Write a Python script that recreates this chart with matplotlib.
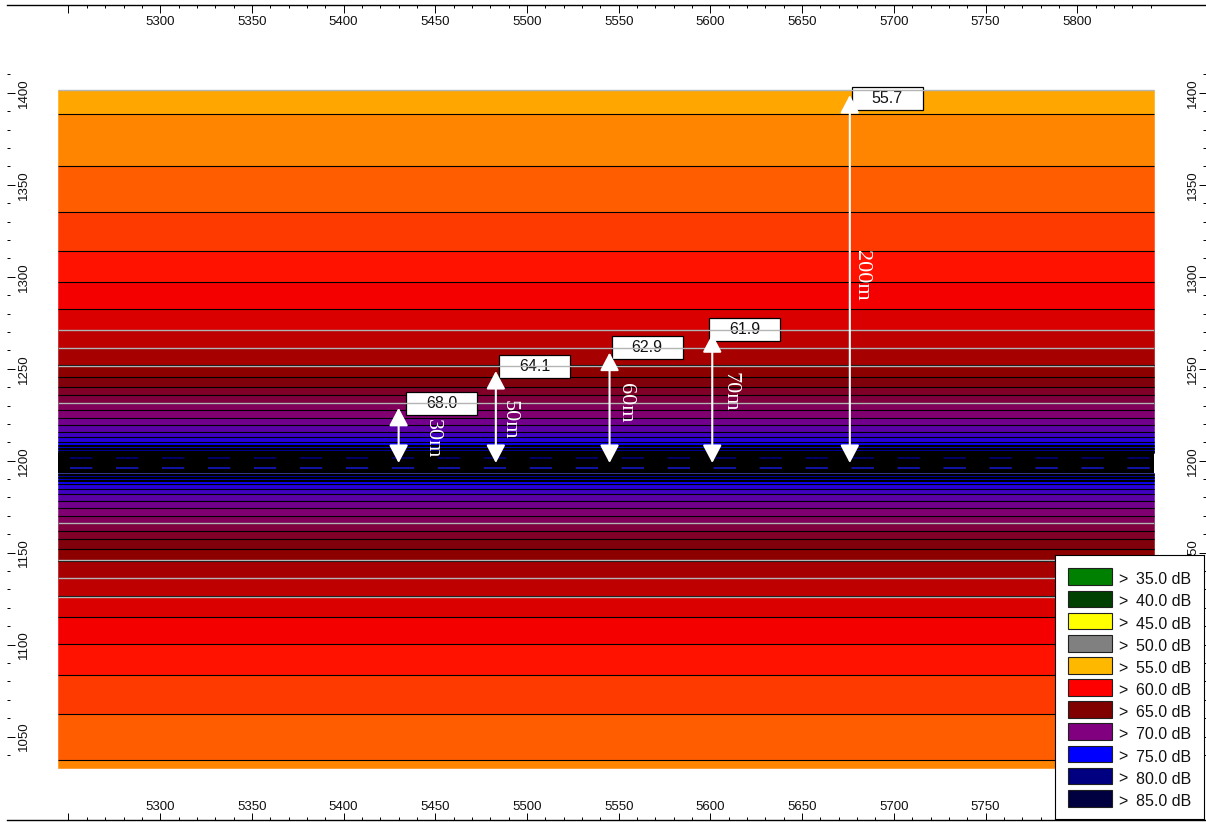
import numpy as np
import matplotlib
matplotlib.use("Agg")
import matplotlib.pyplot as plt
from matplotlib.colors import LinearSegmentedColormap, Normalize
from matplotlib.patches import Rectangle

plt.rcParams['font.family'] = ['Liberation Sans', 'DejaVu Sans']
plt.rcParams['lines.scale_dashes'] = False

# Noise classes shown in the legend (lower bound in dB) and their fills
legend_levels = [35, 40, 45, 50, 55, 60, 65, 70, 75, 80, 85]
legend_colors = ['#008000', '#004000', '#FFFF00', '#808080', '#FFB800', '#FF0000',
                 '#800000', '#800080', '#0000FF', '#000080', '#000040']

# Iso-dB lines: level (dB) and distance (m) from the road axis
contour_db = [56, 57, 58, 59, 60, 61, 62, 63, 64, 65, 66, 67, 68,
              69, 70, 71, 72, 73, 74, 75, 76, 77, 78, 79, 80]
contour_dist = [189.5, 161.5, 136.5, 115.4, 98.2, 83.9, 72.1, 62.3, 53.3, 46.9,
                41.5, 37.0, 32.4, 28.8, 24.3, 20.7, 17.0, 14.0, 11.6, 9.8,
                9.0, 8.2, 7.4, 6.6, 5.9]

# Receivers: chainage, distance from the near lane (m), computed level (dB)
receiver_x = [5430, 5483, 5545, 5601, 5676]
receiver_dist = [30, 50, 60, 70, 200]
receiver_db = [68.0, 64.1, 62.9, 61.9, 55.7]

# Road and calculation grid geometry
road_axis_y = 1198.75
lane_north_y = 1201.3
lane_south_y = 1196.0
road_half_width = 5.3
grid_x = (5244.5, 5842.0)
grid_y = (1032.8, 1401.3)

x_major = list(range(5250, 5801, 50))
x_minor = list(range(5250, 5841, 10))
y_major = list(range(1050, 1401, 50))
y_minor = list(range(1040, 1411, 10))

# colour ramp built on the legend classes from 55 dB upwards
ramp_levels = legend_levels[4:]
ramp_colors = legend_colors[4:]
norm = Normalize(vmin=ramp_levels[0], vmax=ramp_levels[-1])
cmap = LinearSegmentedColormap.from_list(
    'noise', [(norm(v), c) for v, c in zip(ramp_levels, ramp_colors)])

W, H = 1206, 822
fig = plt.figure(figsize=(W / 100, H / 100), dpi=100)
ax = fig.add_axes([6.5 / W, 2 / H, (W - 6.5) / W, 815 / H])
ax.set_xlim(5216.2, 5870.2)
ax.set_ylim(1004.7, 1447.7)

# ---- coloured bands on both sides of the road
order = np.argsort(contour_dist)
d_sorted = np.array(contour_dist)[order]
l_sorted = np.array(contour_db)[order]


def draw_side(sign, outer):
    keep = d_sorted < outer
    d_in = d_sorted[keep]
    l_in = l_sorted[keep]
    inner_edges = np.concatenate([[road_half_width], d_in])
    outer_edges = np.concatenate([d_in, [outer]])
    values = np.concatenate([l_in + 0.5, [l_in[-1] - 0.5]])
    for a, b, v in zip(inner_edges, outer_edges, values):
        ya, yb = road_axis_y + sign * a, road_axis_y + sign * b
        ax.fill_between(grid_x, ya, yb, color=cmap(norm(v)), lw=0.4,
                        edgecolor=cmap(norm(v)), zorder=1)
    ys = road_axis_y + sign * d_in
    ax.hlines(ys, grid_x[0], grid_x[1], colors='black', lw=0.8, zorder=2)


draw_side(+1, grid_y[1] - road_axis_y)
draw_side(-1, road_axis_y - grid_y[0])

# road surface with lane markings
ax.fill_between(grid_x, road_axis_y - road_half_width, road_axis_y + road_half_width,
                color='black', lw=0, zorder=2)
ax.plot([5251, grid_x[1]], [lane_north_y] * 2, color='#000070', lw=1.3,
        dashes=(16.1, 17.0), zorder=3)
ax.plot([5251, grid_x[1]], [lane_south_y] * 2, color='#1414B4', lw=1.3,
        dashes=(16.1, 17.0), zorder=3)

# receiver lines (grey) on both sides
rec_lines = [lane_north_y + d for d in receiver_dist if lane_north_y + d <= grid_y[1] + 0.5]
rec_lines += [lane_south_y - d for d in receiver_dist if lane_south_y - d >= grid_y[0]]
ax.hlines(rec_lines, grid_x[0], grid_x[1], colors='#B4B4B4', lw=1.0, zorder=5)

# value boxes
box_dx = [4.0, 1.7, 1.1, -1.6, 1.1]
box_w, box_h = 38.7, 12.5
for x, d, v, bx in zip(receiver_x, receiver_dist, receiver_db, box_dx):
    yc = min(lane_north_y + d, grid_y[1] - 4.4)
    ax.add_patch(Rectangle((x + bx, yc - box_h / 2), box_w, box_h, fc='white',
                           ec='black', lw=0.9, zorder=4))
    ax.text(x + bx + box_w / 2, yc, f"{v:.1f}", ha='center', va='center',
            fontsize=11.5, color='#111111', zorder=4.5)

# distance arrows with labels
lab_dx = [18.3, 7.3, 8.6, 9.8, 6.5]
lab_dy = [-2.0, -1.5, 2.9, 3.8, 1.9]
for x, d, dx, dy in zip(receiver_x, receiver_dist, lab_dx, lab_dy):
    ax.annotate('', xy=(x, road_axis_y + d), xytext=(x, road_axis_y),
                arrowprops=dict(arrowstyle='<|-|>,head_length=0.55,head_width=0.29',
                                mutation_scale=20, color='white', lw=1.5,
                                shrinkA=0, shrinkB=0), zorder=6)
    ax.text(x + dx, road_axis_y + d / 2 + dy, f"{d}m", rotation=270,
            ha='center', va='center', color='white', fontsize=16,
            family='Liberation Serif', zorder=6)

# ---- axes frame and ticks
for s in ('top', 'left', 'right'):
    ax.spines[s].set_visible(False)
ax.spines['bottom'].set_linewidth(1.0)

x_labels = ['' if v == 5250 else str(v) for v in x_major]
y_labels = [str(v) for v in y_major]
# right-hand labels below the legend panel are covered, so leave them blank
y_labels_right = ['' if v < 1150 else str(v) for v in y_major]

ax.set_xticks(x_major, x_labels)
ax.set_xticks(x_minor, minor=True)
ax.set_yticks(y_major, y_labels)
ax.set_yticks(y_minor, minor=True)
ax.tick_params(axis='both', which='both', direction='in', width=0.7, color='black',
               labelsize=9.5, labelcolor='#111111')
ax.tick_params(axis='both', which='major', length=5.4)
ax.tick_params(axis='both', which='minor', length=2.2)
ax.tick_params(axis='x', which='both', top=False, bottom=True, pad=-13.6)
ax.tick_params(axis='y', which='both', left=True, right=False, pad=-16.8,
               labelrotation=90)
plt.setp(ax.get_yticklabels(), va='center')

top = ax.secondary_xaxis('top')
top.set_xticks(x_major, x_labels)
top.set_xticks(x_minor, minor=True)
top.tick_params(axis='x', which='both', direction='in', width=0.7, pad=-16.4,
                labelsize=9.5, labelcolor='#111111')
top.tick_params(axis='x', which='major', length=5.4)
top.tick_params(axis='x', which='minor', length=2.2)
top.spines['top'].set_linewidth(1.0)

right = ax.secondary_yaxis('right')
right.set_yticks(y_major, y_labels_right)
right.set_yticks(y_minor, minor=True)
right.tick_params(axis='y', which='both', direction='in', width=0.7, pad=-13.8,
                  labelsize=9.5, labelcolor='#111111', labelrotation=90)
right.tick_params(axis='y', which='major', length=5.4)
right.tick_params(axis='y', which='minor', length=2.2)
right.spines['right'].set_visible(False)
plt.setp(right.get_yticklabels(), va='center')

# ---- legend panel
lx0, ly_top, lw_px, lh_px = 1055, 555, 149, 264.3
lax = fig.add_axes([lx0 / W, (H - ly_top - lh_px) / H, lw_px / W, lh_px / H])
lax.set_xlim(0, lw_px)
lax.set_ylim(lh_px, 0)
lax.set_xticks([])
lax.set_yticks([])
lax.set_facecolor('white')
for s in lax.spines.values():
    s.set_linewidth(0.8)
    s.set_color('black')
for i, (lvl, col) in enumerate(zip(legend_levels, legend_colors)):
    cy = 21.7 + 22.16 * i
    lax.add_patch(Rectangle((13.3, cy - 8.35), 44, 16.7, fc=col, ec='#202020', lw=0.8))
    lax.text(63.3, cy + 7.6, '>', ha='left', va='baseline', fontsize=11.5,
             color='#111111')
    lax.text(81, cy + 7.6, f"{lvl:.1f} dB", ha='left', va='baseline',
             fontsize=11.5, color='#111111')

fig.savefig('out.png', dpi=100)
